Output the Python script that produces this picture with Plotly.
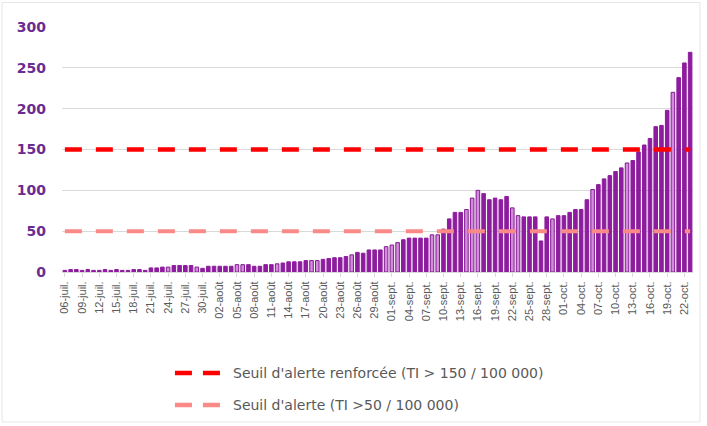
import plotly.graph_objects as go

# ---- data ----
month_spans = [("juil.", 6, 31), ("août", 1, 31), ("sept.", 1, 30), ("oct.", 1, 23)]
categories = [f"{d:02d}-{m}" for m, a, b in month_spans for d in range(a, b + 1)]

incidence = [
    2, 3, 3, 2, 3, 2, 2, 3, 2, 3, 2, 2, 3, 3, 2,
    5, 5, 6, 6, 8, 8, 8, 8, 6,
    4.5, 7, 7, 7, 7, 7,
    9, 9, 9, 7, 7, 9, 9, 10, 11, 12.5, 12.5, 12.5, 14, 14, 14, 15.5, 16.5, 17.5, 17.5, 19,
    21, 24, 23, 27, 27, 27, 31, 33, 36, 39.5, 41.5, 41.5, 41.5, 41.5, 45.5, 45.5, 52.5, 65, 73,
    73, 76.5, 90.5, 100, 96, 88.5, 90.5, 88.5, 92.5, 78.5, 69, 67.5, 67.5, 67.5, 38, 67.5,
    65, 69, 69, 73, 76.5, 76.5, 88.5, 101, 107, 114, 118, 123, 127.5, 133.5, 136.5, 147,
    155.5, 163.5, 178, 179.5, 198, 220, 238, 256, 269,
]
light_bar_idx = [18, 23, 30, 31, 37, 43, 44, 50, 56, 57, 58, 64, 65, 70, 71, 72,
                 78, 79, 85, 92, 98, 106]

seuil_renforce = 150
seuil_alerte = 50
label_renforce = "Seuil d'alerte renforcée (TI > 150 / 100 000)"
label_alerte = "Seuil d'alerte (TI >50 / 100 000)"

tick_labels = categories[::3]
y_ticks = [0, 50, 100, 150, 200, 250, 300]

# ---- styles ----
DARK = "#8E1C9E"
LIGHT = "#D68ADD"
RED = "#FF0000"
PINK = "#F98A87"
DASH = "17px,14px"
fill_colors = [LIGHT if i in light_bar_idx else DARK for i in range(len(categories))]
line_colors = ["#7E1A8E" if i in light_bar_idx else DARK for i in range(len(categories))]

fig = go.Figure()
fig.add_trace(go.Bar(
    x=categories, y=incidence,
    marker=dict(color=fill_colors, line=dict(color=line_colors, width=1)),
    showlegend=False, hoverinfo="x+y",
))
fig.add_trace(go.Scatter(
    x=categories, y=[seuil_renforce] * len(categories), mode="lines",
    line=dict(color=RED, width=4.5, dash=DASH),
    name=label_renforce, showlegend=False,
))
fig.add_trace(go.Scatter(
    x=categories, y=[seuil_alerte] * len(categories), mode="lines",
    line=dict(color=PINK, width=4, dash=DASH),
    name=label_alerte, showlegend=False,
))

# manual legend (below the chart)
legend_items = [(label_renforce, RED, -0.412), (label_alerte, PINK, -0.543)]
shapes = [dict(type="rect", xref="paper", yref="paper",
               x0=-0.095, x1=1.011, y0=-0.612, y1=1.1,
               line=dict(color="#E6E6E6", width=1), layer="below")]
annotations = []
for text, color, ly in legend_items:
    shapes.append(dict(type="line", xref="paper", yref="paper",
                       x0=0.179, x1=0.252, y0=ly, y1=ly,
                       line=dict(color=color, width=4.5, dash="17px,11px")))
    annotations.append(dict(text=text, xref="paper", yref="paper", x=0.268, y=ly,
                            xanchor="left", yanchor="middle", showarrow=False,
                            font=dict(size=14, color="#595959", family="DejaVu Sans")))

fig.update_layout(
    width=707, height=426,
    margin=dict(l=62, r=14, t=27, b=154),
    paper_bgcolor="white", plot_bgcolor="white",
    bargap=0.38,
    font=dict(family="Liberation Sans", color="#595959"),
    showlegend=False,
    xaxis=dict(
        type="category", tickmode="array", tickvals=tick_labels, ticktext=tick_labels,
        tickangle=-90, tickfont=dict(size=11, color="#595959", family="Liberation Sans"),
        showgrid=False, showline=True, linecolor="#D9D9D9", linewidth=1,
        ticks="outside", ticklen=4, tickcolor="#D9D9D9",
        range=[-0.5, len(categories) - 0.5],
    ),
    yaxis=dict(
        range=[0, 300], tickvals=y_ticks, showgrid=True, gridcolor="#D9D9D9",
        gridwidth=1, zeroline=False, showline=False,
        tickfont=dict(size=14, color="#6B2C91", family="DejaVu Sans", weight="bold"),
        ticklabelstandoff=15,
    ),
    shapes=shapes,
    annotations=annotations,
)

fig.write_html("out.html", config={"displayModeBar": False},
               post_script="document.body.style.margin='0';document.body.style.padding='0';")
